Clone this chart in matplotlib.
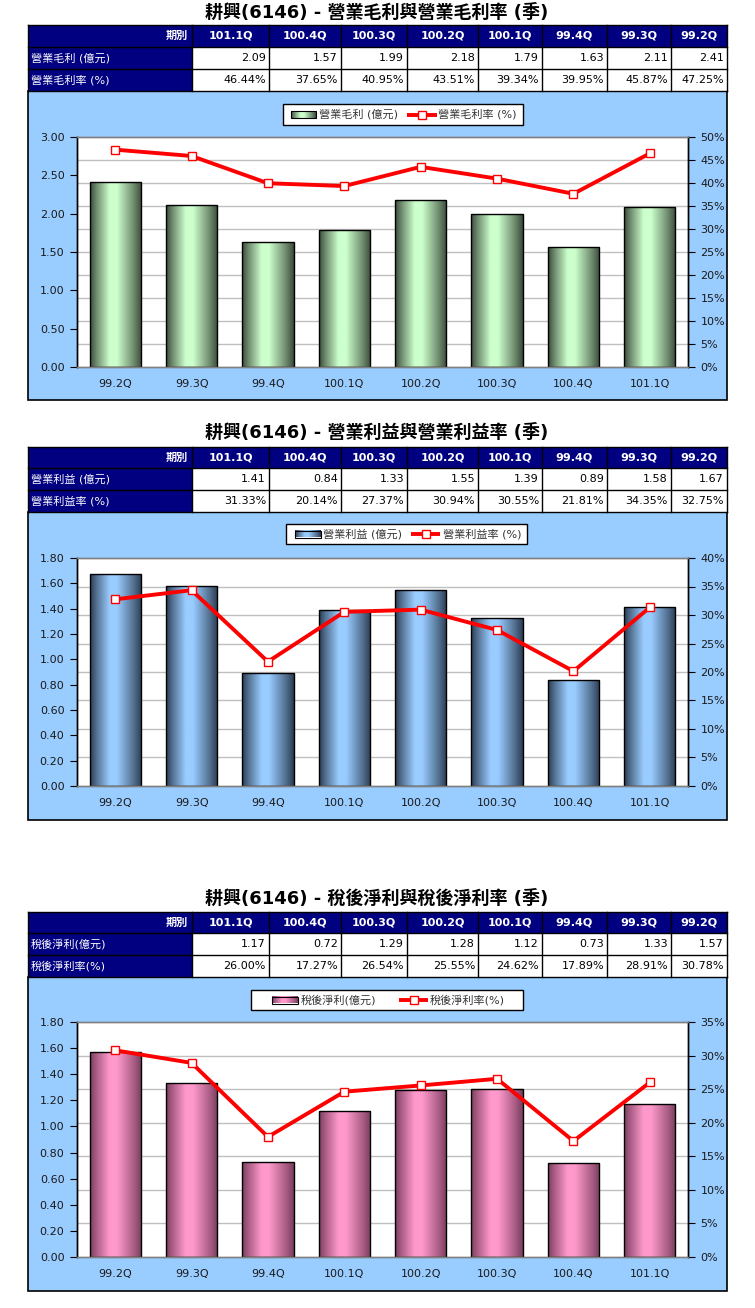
import numpy as np
import matplotlib
matplotlib.use('Agg')
import matplotlib.pyplot as plt
from matplotlib.patches import Rectangle
from matplotlib.colors import LinearSegmentedColormap

plt.rcParams['font.family'] = ['DejaVu Sans', 'Noto Sans CJK TC']

# ---------------- data ----------------
periods = ['101.1Q', '100.4Q', '100.3Q', '100.2Q', '100.1Q', '99.4Q', '99.3Q', '99.2Q']
gross_profit = [2.09, 1.57, 1.99, 2.18, 1.79, 1.63, 2.11, 2.41]
gross_margin = [46.44, 37.65, 40.95, 43.51, 39.34, 39.95, 45.87, 47.25]
op_income = [1.41, 0.84, 1.33, 1.55, 1.39, 0.89, 1.58, 1.67]
op_margin = [31.33, 20.14, 27.37, 30.94, 30.55, 21.81, 34.35, 32.75]
net_income = [1.17, 0.72, 1.29, 1.28, 1.12, 0.73, 1.33, 1.57]
net_margin = [26.00, 17.27, 26.54, 25.55, 24.62, 17.89, 28.91, 30.78]

titles = ['耕興(6146) - 營業毛利與營業毛利率 (季)',
          '耕興(6146) - 營業利益與營業利益率 (季)',
          '耕興(6146) - 稅後淨利與稅後淨利率 (季)']
amount_labels = ['營業毛利 (億元)', '營業利益 (億元)', '稅後淨利(億元)']
rate_labels = ['營業毛利率 (%)', '營業利益率 (%)', '稅後淨利率(%)']
header_label = '期別'
left_max = [3.0, 1.8, 1.8]
left_step = [0.5, 0.2, 0.2]
right_max = [50, 40, 35]
right_step = 5

amounts = [gross_profit, op_income, net_income]
rates = [gross_margin, op_margin, net_margin]

# ---------------- layout (pixels) ----------------
W, H = 755, 1308
col_edges = [28, 192, 269, 341, 407, 478, 542, 607, 671, 727]
layouts = [
    dict(title_y=13, rows=[25, 47, 69, 91], chart_bottom=400,
         legend=(283, 104, 523, 125), patch=(291, 316), text1=319, line=(407, 437), text2=438,
         plot=(77, 137, 688, 367)),
    dict(title_y=433, rows=[447, 468, 490, 512], chart_bottom=820,
         legend=(286, 524, 527, 544), patch=(295, 321), text1=323, line=(411, 440), text2=443,
         plot=(77, 558, 688, 786)),
    dict(title_y=899, rows=[912, 933, 955, 977], chart_bottom=1291,
         legend=(251, 990, 523, 1010), patch=(272, 298), text1=301, line=(399, 428), text2=430,
         plot=(77, 1022, 688, 1257)),
]
bar_colors = [('#3a4a3a', '#ccffcc'), ('#2b3c52', '#99ccff'), ('#7a3d5e', '#ff99cc')]

NAVY = '#000080'
BLUE_BG = '#99ccff'
RED = '#ff0000'

fig = plt.figure(figsize=(W / 100, H / 100), dpi=100)
bg = fig.add_axes([0, 0, 1, 1])
bg.set_xlim(0, W)
bg.set_ylim(H, 0)
bg.axis('off')


def px_axes(x0, y0, x1, y1):
    return fig.add_axes([x0 / W, 1 - y1 / H, (x1 - x0) / W, (y1 - y0) / H])


tprof = np.linspace(0, 1, 256)
bright = np.interp(tprof, [0, 0.12, 0.38, 0.52, 0.85, 1.0], [0.0, 0.35, 1.0, 1.0, 0.35, 0.0])
grad = bright.reshape(1, -1)


def gradient_cmap(dark, light):
    return LinearSegmentedColormap.from_list('g', [dark, light])


for i in range(3):
    L = layouts[i]
    t0, t1, t2, t3 = L['rows']
    dark, light = bar_colors[i]
    cmap = gradient_cmap(dark, light)

    # title
    bg.text(377, L['title_y'], titles[i], ha='center', va='center', fontsize=13,
            fontweight='bold', color='black')

    # table
    bg.add_patch(Rectangle((28, t0), 727 - 28, t1 - t0, fc=NAVY, ec='none'))
    bg.add_patch(Rectangle((28, t1), 192 - 28, t3 - t1, fc=NAVY, ec='none'))
    bg.add_patch(Rectangle((192, t1), 727 - 192, t3 - t1, fc='white', ec='none'))
    for y in L['rows']:
        bg.plot([28, 727], [y, y], color='black', lw=1)
    for x in col_edges:
        bg.plot([x, x], [t0, t3], color='black', lw=1)
    bg.text(188, (t0 + t1) / 2, header_label, ha='right', va='center', fontsize=8,
            fontweight='bold', color='white')
    bg.text(31, (t1 + t2) / 2, amount_labels[i], ha='left', va='center', fontsize=8, color='white')
    bg.text(31, (t2 + t3) / 2, rate_labels[i], ha='left', va='center', fontsize=8, color='white')
    for j, p in enumerate(periods):
        xl, xr = col_edges[j + 1], col_edges[j + 2]
        bg.text((xl + xr) / 2, (t0 + t1) / 2, p, ha='center', va='center', fontsize=8,
                fontweight='bold', color='white')
        bg.text(xr - 3, (t1 + t2) / 2, f'{amounts[i][j]:.2f}', ha='right', va='center',
                fontsize=8, color='black')
        bg.text(xr - 3, (t2 + t3) / 2, f'{rates[i][j]:.2f}%', ha='right', va='center',
                fontsize=8, color='black')

    # chart area
    bg.add_patch(Rectangle((28, t3), 727 - 28, L['chart_bottom'] - t3, fc=BLUE_BG,
                           ec='black', lw=1.2, zorder=0.5))

    # legend
    lx0, ly0, lx1, ly1 = L['legend']
    bg.add_patch(Rectangle((lx0, ly0), lx1 - lx0, ly1 - ly0, fc='white', ec='black', lw=1, zorder=1))
    yc = (ly0 + ly1) / 2
    px0, px1 = L['patch']
    bg.imshow(grad, cmap=cmap, extent=[px0, px1, yc + 3.5, yc - 3.5], aspect='auto',
              interpolation='bilinear', zorder=2)
    bg.add_patch(Rectangle((px0, yc - 3.5), px1 - px0, 7, fc='none', ec='black', lw=0.8, zorder=3))
    bg.text(L['text1'], yc, amount_labels[i], ha='left', va='center', fontsize=8,
            color='#333333', zorder=3)
    lnx0, lnx1 = L['line']
    bg.plot([lnx0, lnx1], [yc, yc], color=RED, lw=2.8, zorder=3, solid_capstyle='butt')
    bg.plot([(lnx0 + lnx1) / 2], [yc], marker='s', ms=5.5, mfc='white', mec=RED, mew=1, zorder=4)
    bg.text(L['text2'], yc, rate_labels[i], ha='left', va='center', fontsize=8,
            color='#333333', zorder=3)

    # plot
    ax = px_axes(*L['plot'])
    ax2 = ax.twinx()
    cats = periods[::-1]
    vals = amounts[i][::-1]
    rvals = rates[i][::-1]
    x = np.arange(len(cats))
    lm, rm = left_max[i], right_max[i]

    ax.set_facecolor('white')
    rticks = np.arange(0, rm + 0.01, right_step)
    for v in rticks[1:-1]:
        ax.axhline(v * lm / rm, color='#c0c0c0', lw=1, zorder=0.5)

    bw = 0.67
    bars = ax.bar(x, vals, width=bw, facecolor='none', edgecolor='black', lw=1, zorder=3)
    for b in bars:
        bx, by = b.get_x(), b.get_y()
        im = ax.imshow(grad, cmap=cmap, extent=[bx, bx + b.get_width(), 0, b.get_height()],
                       aspect='auto', interpolation='bilinear', zorder=2)
        im.set_clip_path(b)
    ax.set_xlim(-0.5, len(cats) - 0.5)
    ax.set_ylim(0, lm)
    ax.set_aspect('auto')
    lticks = np.arange(0, lm + 0.001, left_step[i])
    ax.set_yticks(lticks)
    ax.set_yticklabels([f'{v:.2f}' for v in lticks])
    ax.set_xticks(x)
    ax.set_xticklabels(cats)
    ax.tick_params(axis='x', length=0, pad=9, labelsize=8, labelcolor='#1a1a1a')
    ax.tick_params(axis='y', length=5, direction='out', pad=4, labelsize=8,
                   labelcolor='#1a1a1a', color='black')

    ax2.plot(x, rvals, color=RED, lw=2.8, marker='s', ms=6, mfc='white', mec=RED, mew=1,
             zorder=5)
    ax2.set_ylim(0, rm)
    ax2.set_yticks(rticks)
    ax2.set_yticklabels([f'{int(v)}%' for v in rticks])
    ax2.tick_params(axis='y', length=5, direction='out', pad=4, labelsize=8,
                    labelcolor='#1a1a1a', color='black')
    ax2.patch.set_visible(False)

    for a in (ax, ax2):
        a.spines['top'].set_color('#808080')
        a.spines['bottom'].set_color('#808080')
        a.spines['left'].set_color('black')
        a.spines['right'].set_color('black')
        for s in a.spines.values():
            s.set_linewidth(1)

bg.set_xlim(0, W)
bg.set_ylim(H, 0)
bg.set_aspect('auto')

fig.savefig('out.png', dpi=100, facecolor='white')
